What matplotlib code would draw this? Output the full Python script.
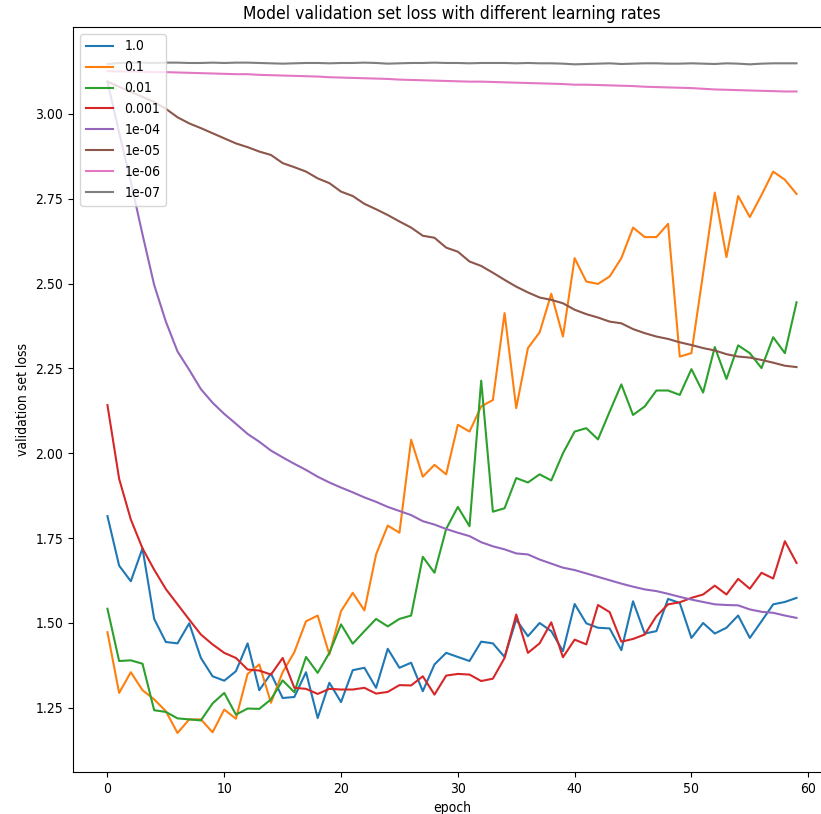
import numpy as np
import matplotlib
matplotlib.use("Agg")
import matplotlib.pyplot as plt

# validation loss per epoch for each learning rate
epochs = np.arange(60)

loss_1e0 = [1.815, 1.669, 1.623, 1.720, 1.512, 1.444, 1.440, 1.499, 1.397, 1.343,
            1.330, 1.358, 1.440, 1.302, 1.351, 1.279, 1.282, 1.355, 1.220, 1.324,
            1.267, 1.361, 1.368, 1.309, 1.424, 1.368, 1.383, 1.299, 1.378, 1.412,
            1.400, 1.388, 1.445, 1.440, 1.400, 1.510, 1.461, 1.500, 1.476, 1.417,
            1.556, 1.499, 1.486, 1.484, 1.420, 1.564, 1.469, 1.476, 1.571, 1.559,
            1.456, 1.500, 1.469, 1.486, 1.522, 1.456, 1.505, 1.555, 1.562, 1.574]

loss_1e1 = [1.473, 1.294, 1.355, 1.302, 1.275, 1.240, 1.176, 1.216, 1.216, 1.178,
            1.245, 1.218, 1.350, 1.378, 1.265, 1.355, 1.414, 1.505, 1.522, 1.407,
            1.535, 1.589, 1.537, 1.702, 1.787, 1.766, 2.040, 1.931, 1.966, 1.938,
            2.084, 2.064, 2.138, 2.157, 2.413, 2.133, 2.310, 2.356, 2.470, 2.344,
            2.575, 2.506, 2.499, 2.521, 2.575, 2.665, 2.637, 2.637, 2.676, 2.285,
            2.295, 2.530, 2.768, 2.578, 2.758, 2.696, 2.761, 2.830, 2.806, 2.764]

loss_1e2 = [1.542, 1.388, 1.390, 1.380, 1.243, 1.238, 1.219, 1.216, 1.213, 1.263,
            1.294, 1.230, 1.248, 1.247, 1.275, 1.331, 1.296, 1.400, 1.353, 1.412,
            1.496, 1.439, 1.476, 1.512, 1.490, 1.512, 1.522, 1.695, 1.648, 1.777,
            1.842, 1.785, 2.214, 1.828, 1.838, 1.927, 1.914, 1.938, 1.920, 2.000,
            2.064, 2.074, 2.041, 2.123, 2.203, 2.113, 2.138, 2.185, 2.185, 2.172,
            2.248, 2.179, 2.313, 2.219, 2.318, 2.295, 2.251, 2.342, 2.295, 2.445]

loss_1e3 = [2.142, 1.925, 1.805, 1.720, 1.657, 1.600, 1.555, 1.510, 1.466, 1.437,
            1.412, 1.397, 1.363, 1.360, 1.348, 1.397, 1.309, 1.306, 1.291, 1.306,
            1.304, 1.304, 1.309, 1.292, 1.297, 1.317, 1.316, 1.343, 1.289, 1.345,
            1.350, 1.348, 1.329, 1.336, 1.397, 1.525, 1.412, 1.440, 1.502, 1.399,
            1.451, 1.437, 1.553, 1.532, 1.445, 1.453, 1.466, 1.520, 1.555, 1.561,
            1.574, 1.584, 1.610, 1.584, 1.630, 1.601, 1.648, 1.631, 1.741, 1.677]

loss_1e4 = [3.095, 2.945, 2.800, 2.645, 2.496, 2.388, 2.300, 2.246, 2.189, 2.149,
            2.116, 2.087, 2.057, 2.034, 2.008, 1.988, 1.969, 1.951, 1.931, 1.914,
            1.899, 1.885, 1.870, 1.857, 1.842, 1.830, 1.818, 1.800, 1.790, 1.777,
            1.766, 1.756, 1.738, 1.726, 1.717, 1.705, 1.702, 1.687, 1.675, 1.663,
            1.656, 1.646, 1.636, 1.626, 1.616, 1.607, 1.599, 1.594, 1.586, 1.577,
            1.569, 1.562, 1.555, 1.553, 1.552, 1.540, 1.533, 1.530, 1.522, 1.515]

loss_1e5 = [3.095, 3.080, 3.065, 3.050, 3.035, 3.015, 2.990, 2.972, 2.958, 2.943,
            2.928, 2.913, 2.902, 2.889, 2.879, 2.855, 2.843, 2.830, 2.810, 2.796,
            2.771, 2.758, 2.735, 2.719, 2.702, 2.683, 2.665, 2.641, 2.635, 2.606,
            2.594, 2.565, 2.552, 2.532, 2.511, 2.491, 2.474, 2.459, 2.452, 2.442,
            2.423, 2.410, 2.400, 2.388, 2.383, 2.366, 2.354, 2.344, 2.337, 2.327,
            2.319, 2.310, 2.303, 2.292, 2.285, 2.282, 2.275, 2.267, 2.258, 2.254]

loss_1e6 = [3.126, 3.125, 3.125, 3.124, 3.123, 3.123, 3.122, 3.121, 3.120, 3.119,
            3.118, 3.117, 3.117, 3.115, 3.114, 3.113, 3.112, 3.111, 3.110, 3.108,
            3.107, 3.106, 3.105, 3.104, 3.103, 3.101, 3.100, 3.099, 3.098, 3.097,
            3.096, 3.095, 3.095, 3.094, 3.093, 3.092, 3.091, 3.090, 3.089, 3.088,
            3.086, 3.086, 3.085, 3.084, 3.083, 3.082, 3.080, 3.079, 3.078, 3.077,
            3.076, 3.074, 3.072, 3.071, 3.070, 3.069, 3.068, 3.067, 3.066, 3.066]

loss_1e7 = [3.147, 3.150, 3.151, 3.151, 3.150, 3.151, 3.151, 3.150, 3.150, 3.151,
            3.150, 3.151, 3.151, 3.150, 3.149, 3.148, 3.149, 3.150, 3.150, 3.149,
            3.150, 3.150, 3.151, 3.150, 3.148, 3.149, 3.150, 3.150, 3.151, 3.150,
            3.150, 3.149, 3.150, 3.150, 3.150, 3.149, 3.150, 3.149, 3.149, 3.148,
            3.146, 3.147, 3.148, 3.149, 3.147, 3.148, 3.149, 3.149, 3.148, 3.148,
            3.149, 3.148, 3.147, 3.149, 3.148, 3.146, 3.148, 3.149, 3.149, 3.149]

labels = ['1.0', '0.1', '0.01', '0.001', '1e-04', '1e-05', '1e-06', '1e-07']
series = [loss_1e0, loss_1e1, loss_1e2, loss_1e3, loss_1e4, loss_1e5, loss_1e6, loss_1e7]

plt.rcParams['font.family'] = 'DejaVu Sans'
plt.rcParams['font.stretch'] = 'condensed'

W, H = 821, 814
fig = plt.figure(figsize=(W / 100, H / 100), dpi=100)
ax = fig.add_axes([73 / W, (H - 772) / H, 758 / W, 745 / H])

for lbl, vals in zip(labels, series):
    ax.plot(epochs, vals, label=lbl)

ax.set_xlim(-2.95, 61.95)
ax.set_ylim(1.061, 3.256)
ax.set_yticks([1.25, 1.50, 1.75, 2.00, 2.25, 2.50, 2.75, 3.00])
ax.set_title('Model validation set loss with different learning rates', fontsize=12.5)
ax.set_xlabel('epoch')
ax.set_ylabel('validation set loss')
ax.legend(loc='upper left')

fig.savefig('out.png', dpi=100)
